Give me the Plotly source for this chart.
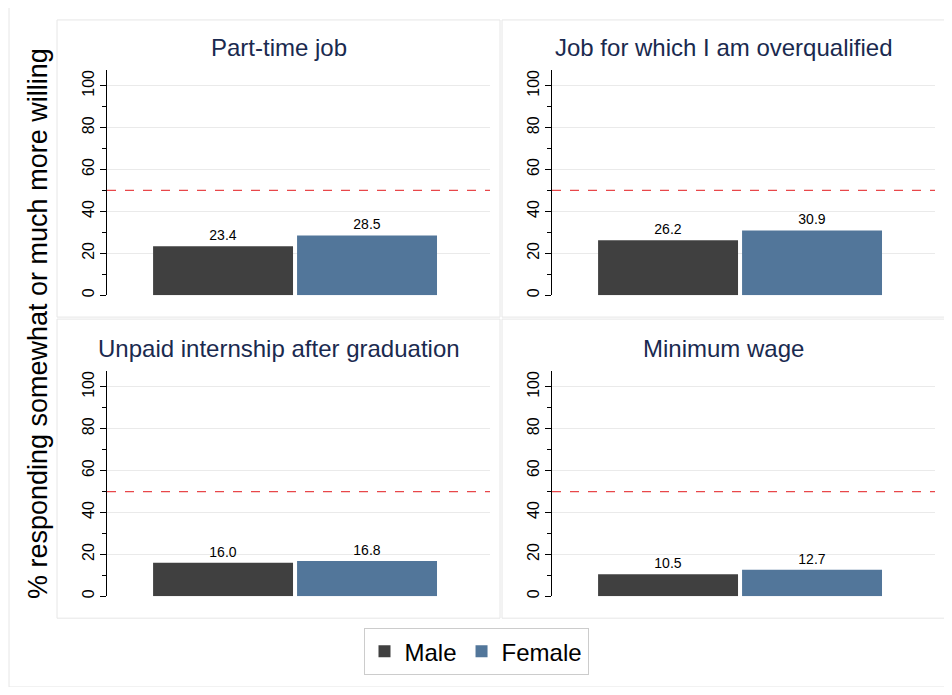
import plotly.graph_objects as go

panels = ["Part-time job", "Job for which I am overqualified",
          "Unpaid internship after graduation", "Minimum wage"]
male = [23.4, 26.2, 16.0, 10.5]
female = [28.5, 30.9, 16.8, 12.7]
groups = ["Male", "Female"]
colors = ["#404040", "#52769a"]
ref_line = 50

OFF = 8
W, H = 952 - 2 * OFF, 695 - 2 * OFF
def px(x): return (x - OFF) / W
def py(y): return 1 - (y - OFF) / H

xdoms = [(107, 490), (552, 935)]
ydoms = [(296, 70), (598, 372)]

fig = go.Figure()
for i, name in enumerate(panels):
    r, c = divmod(i, 2)
    k = i + 1
    xa, ya = f"x{k if k > 1 else ''}", f"y{k if k > 1 else ''}"
    for g, vals, col in ((0, male, colors[0]), (1, female, colors[1])):
        fig.add_trace(go.Bar(x=[g], y=[vals[i]], xaxis=xa, yaxis=ya, width=0.972,
                             marker=dict(color=col, line=dict(width=0)),
                             name=groups[g], showlegend=(i == 0),
                             text=[f"{vals[i]:.1f}"], textposition="outside",
                             textfont=dict(size=14, color="#000"), cliponaxis=False))
    ax = dict(domain=[px(xdoms[c][0]), px(xdoms[c][1])], range=[-0.806, 1.854],
              showticklabels=False, ticks="", showgrid=False, zeroline=False,
              showline=False, anchor=ya)
    ay = dict(domain=[py(ydoms[r][0]), py(ydoms[r][1])], range=[0, 107.6],
              tickvals=[0, 20, 40, 60, 80, 100], tickangle=-90, ticks="outside",
              ticklen=6, tickcolor="#000", showline=True, linecolor="#000",
              showgrid=True, gridcolor="#eaeaea", zeroline=False,
              tickfont=dict(size=16, color="#000"), anchor=xa,
              minor=dict(tickvals=[10, 30, 50, 70, 90], ticks="outside", ticklen=4,
                         tickcolor="#000", showgrid=False))
    fig.layout[f"xaxis{k if k > 1 else ''}"] = ax
    fig.layout[f"yaxis{k if k > 1 else ''}"] = ay
    fig.add_shape(type="line", xref=f"{xa} domain", yref=ya, x0=0, x1=1,
                  y0=ref_line, y1=ref_line, line=dict(color="#e8474a", width=1.3, dash="dash"))
    cx = (57 + 500) / 2 if c == 0 else (502 + 945) / 2
    ty = 48 if r == 0 else 350
    fig.add_annotation(text=name, x=px(cx), y=py(ty), xref="paper", yref="paper",
                       xanchor="center", yanchor="middle",
                       showarrow=False, font=dict(size=24, color="#1a2a4f"))

for (x0, x1) in ((57, 500), (502, 945)):
    for (y0, y1) in ((20, 318), (320, 620)):
        fig.add_shape(type="rect", xref="paper", yref="paper", x0=px(x0), x1=px(x1),
                      y0=py(y1), y1=py(y0), line=dict(color="#e6e6e6", width=1))
fig.add_shape(type="rect", xref="paper", yref="paper", x0=px(9), x1=px(947),
              y0=py(689), y1=py(6), line=dict(color="#e6e6e6", width=1))

fig.add_annotation(text="% responding somewhat or much more willing", textangle=-90,
                   x=px(38), y=py(325), xref="paper", yref="paper", showarrow=False,
                   xanchor="center", yanchor="middle",
                   font=dict(size=27, color="#000"))

fig.update_layout(width=W, height=H, margin=dict(l=0, r=0, t=0, b=0),
                  paper_bgcolor="white", plot_bgcolor="white", barmode="overlay",
                  font=dict(family="Liberation Sans, Arial", color="#000"),
                  legend=dict(orientation="h", x=0.5, xanchor="center", y=py(630),
                              yanchor="top", bordercolor="#cccccc", borderwidth=1,
                              font=dict(size=24), itemsizing="constant"))
fig.write_html("out.html")
